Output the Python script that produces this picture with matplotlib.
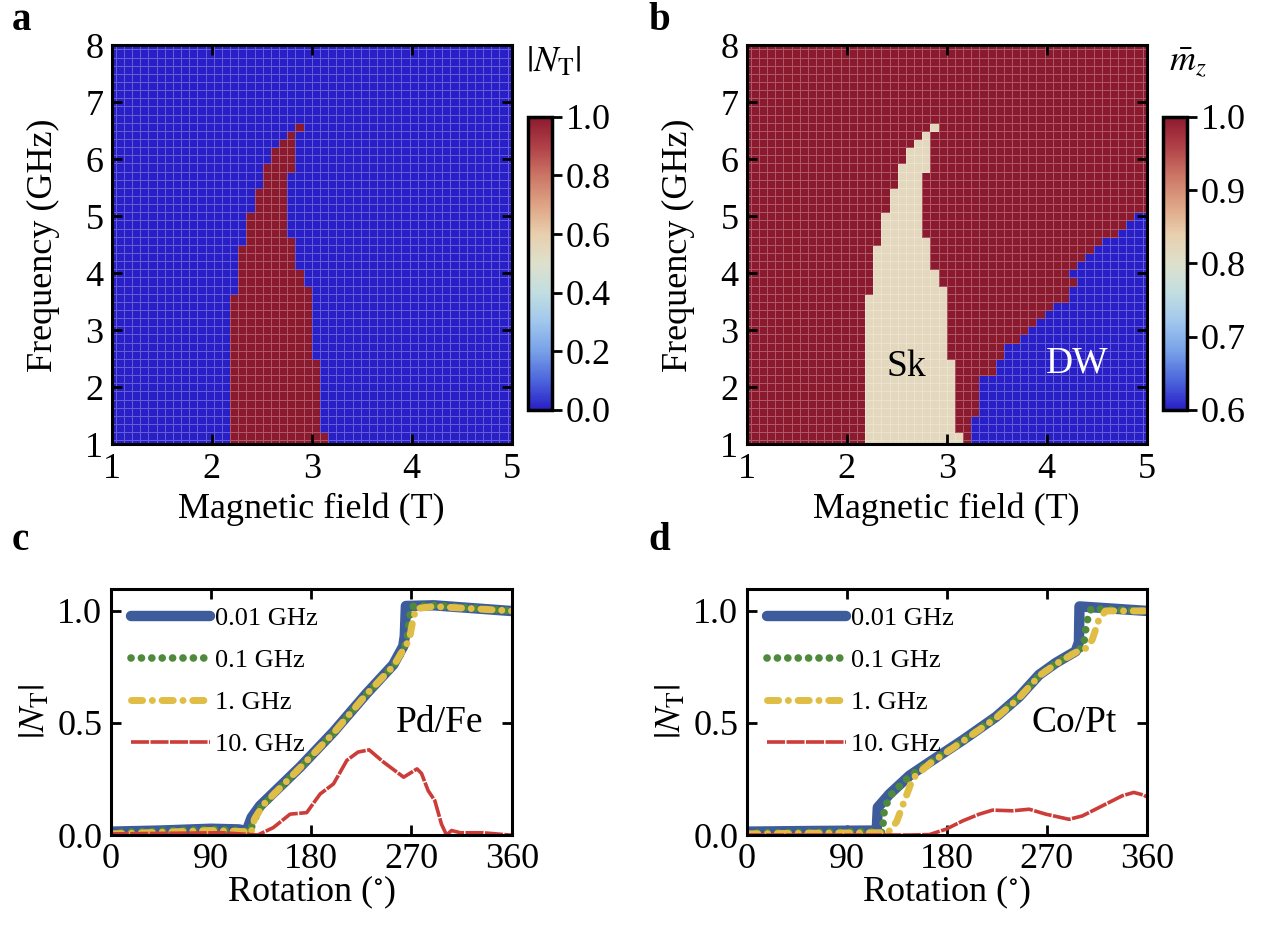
import numpy as np
import matplotlib

matplotlib.use('Agg')
import matplotlib.pyplot as plt
from matplotlib.colors import LinearSegmentedColormap

plt.rcParams['font.family'] = ['Liberation Serif', 'DejaVu Serif']
plt.rcParams['mathtext.fontset'] = 'stix'

# heatmap grid: 50 x 50 samples
field = np.linspace(1, 5, 50)
freq = np.linspace(1, 8, 50)

# skyrmion region: first / last field column for each frequency row (rows 0..39)
sk_lo = [15, 15] + [15] * 9 + [15] * 8 + [16] + [16] * 2 + [16] * 3 + [17] + [17] * 3 + [18] * 3 + [19] * 2 + [19] + [20] * 2 + [21, 22, 23]
sk_hi = [26, 26] + [25] * 9 + [24] * 8 + [24] + [23] * 2 + [22] * 3 + [22] + [21] * 3 + [21] * 3 + [21] * 2 + [22] + [22] * 2 + [22, 22, 23]

# domain-wall region: first field column for each frequency row (rows 0..28)
dw_lo = [28] * 4 + [29] * 5 + [31] * 2 + [32] * 2 + [34, 35, 36, 37, 38] + [40] * 2 + [41, 40, 41, 42, 43, 44, 46, 47, 48]

mz_fm = 1.0
mz_sk = 0.82
mz_dw = 0.6

# panel c, Pd/Fe
c_blue_x = [0, 45, 90, 115, 122, 126.5, 134, 170, 200, 230, 253.6, 262.6, 264, 265, 290, 358.3, 360]
c_blue_y = [0.015, 0.02, 0.028, 0.025, 0.018, 0.078, 0.13, 0.303, 0.46, 0.633, 0.76, 0.842, 0.887, 1.022, 1.025, 1.0, 1.0]
c_green_x = [0, 45, 90, 118, 125, 128, 135, 170, 200, 230, 254, 263, 266, 268, 270, 290, 360]
c_green_y = [0.01, 0.018, 0.025, 0.02, 0.012, 0.06, 0.125, 0.3, 0.455, 0.63, 0.755, 0.83, 0.87, 0.96, 1.02, 1.025, 1.0]
c_yellow_x = [0, 45, 90, 120, 126, 129, 132, 138, 170, 200, 230, 254, 263, 268, 271, 274, 290, 360]
c_yellow_y = [0.005, 0.012, 0.02, 0.015, 0.008, 0.07, 0.095, 0.14, 0.3, 0.455, 0.63, 0.755, 0.83, 0.87, 0.95, 1.01, 1.02, 1.0]
c_red_x = [0, 60, 100, 132, 146, 161, 176, 188, 200, 212, 222, 232, 245, 263, 275, 279, 285, 291, 297, 301.5, 306, 314, 334, 358, 360]
c_red_y = [0.005, 0.008, 0.01, 0.0, 0.033, 0.093, 0.1, 0.183, 0.228, 0.333, 0.37, 0.38, 0.325, 0.258, 0.295, 0.275, 0.198, 0.153, 0.048, 0.0, 0.02, 0.01, 0.01, 0.0, 0.0]

# panel d, Co/Pt
d_blue_x = [0, 60, 117, 118, 128.6, 146.5, 164.5, 194.4, 224.3, 245.2, 263.2, 278.2, 296.1, 299, 299.5, 330, 360]
d_blue_y = [0.015, 0.018, 0.02, 0.123, 0.183, 0.265, 0.325, 0.423, 0.527, 0.617, 0.715, 0.768, 0.82, 0.86, 1.02, 1.01, 1.0]
d_green_x = [0, 60, 120, 122, 124, 130, 146.5, 164.5, 194.4, 224.3, 245.2, 263.2, 278.2, 296.1, 303, 306, 310, 330, 360]
d_green_y = [0.01, 0.012, 0.015, 0.01, 0.12, 0.18, 0.262, 0.322, 0.42, 0.525, 0.615, 0.712, 0.765, 0.818, 0.84, 0.95, 1.01, 1.005, 1.0]
d_yellow_x = [0, 60, 120, 127, 135, 142, 149.5, 165, 194.4, 224.3, 245.2, 263.2, 278.2, 296.1, 306, 311, 317, 323, 340, 360]
d_yellow_y = [0.005, 0.008, 0.01, 0.01, 0.06, 0.153, 0.253, 0.32, 0.418, 0.522, 0.612, 0.71, 0.763, 0.815, 0.835, 0.872, 0.962, 1.0, 1.0, 1.0]
d_red_x = [0, 60, 120, 146, 164.5, 179.5, 194.4, 209.3, 221.3, 239.2, 254.2, 269.2, 290.1, 302, 320, 338, 348.4, 357.4, 360]
d_red_y = [0.0, 0.0, 0.0, 0.0, 0.002, 0.026, 0.063, 0.093, 0.111, 0.108, 0.115, 0.093, 0.07, 0.085, 0.13, 0.175, 0.19, 0.178, 0.17]

freq_labels = ['0.01 GHz', '0.1 GHz', '1. GHz', '10. GHz']

cmap = LinearSegmentedColormap.from_list('temp', [
    (0.0, (0.16, 0.12, 0.78)),
    (0.1, (0.30, 0.40, 0.86)),
    (0.2, (0.47, 0.63, 0.91)),
    (0.3, (0.63, 0.78, 0.93)),
    (0.4, (0.76, 0.87, 0.88)),
    (0.5, (0.87, 0.88, 0.80)),
    (0.6, (0.91, 0.81, 0.68)),
    (0.7, (0.87, 0.64, 0.52)),
    (0.8, (0.80, 0.46, 0.40)),
    (0.9, (0.69, 0.25, 0.28)),
    (1.0, (0.55, 0.10, 0.18)),
])

# build the maps
nt = np.zeros((50, 50))
mz = np.full((50, 50), mz_fm)
for i, (lo, hi) in enumerate(zip(sk_lo, sk_hi)):
    nt[i, lo:hi + 1] = 1.0
    mz[i, lo:hi + 1] = mz_sk
for i, lo in enumerate(dw_lo):
    mz[i, lo:] = mz_dw

W, H = 1276, 926
fig = plt.figure(figsize=(W / 100, H / 100), dpi=100)


def fbox(x0, y0, x1, y1):
    return [x0 / W, 1 - y1 / H, (x1 - x0) / W, (y1 - y0) / H]


def style_axes(ax):
    for s in ax.spines.values():
        s.set_linewidth(2.2)
    ax.tick_params(direction='in', length=7, width=2, top=True, right=True,
                   labelsize=26, pad=6)


ax_a = fig.add_axes(fbox(111.7, 45.3, 511.7, 444.3))
ax_b = fig.add_axes(fbox(746.7, 45.3, 1146.7, 444.3))
for ax, data, vmin, vmax in [(ax_a, nt, 0, 1), (ax_b, mz, 0.6, 1.0)]:
    ax.pcolormesh(field, freq, data, shading='nearest', cmap=cmap, vmin=vmin, vmax=vmax,
                  edgecolors=(1, 1, 1, 0.28), linewidth=0.6)
    ax.set_xlim(1, 5)
    ax.set_ylim(1, 8)
    ax.set_xticks([1, 2, 3, 4, 5])
    ax.set_yticks(range(1, 9))
    ax.set_xlabel('Magnetic field (T)', fontsize=26, labelpad=5)
    ax.set_ylabel('Frequency (GHz)', fontsize=26, labelpad=18)
    style_axes(ax)

ax_b.text(2.6, 2.36, 'Sk', fontsize=27, ha='center', va='center', color='black')
ax_b.text(4.3, 2.42, 'DW', fontsize=27, ha='center', va='center', color='white')

# colorbars
for ax, x0, vmin, vmax, ticks, fmt, label in [
        (ax_a, 528.3, 0, 1, np.arange(0, 1.01, 0.2), '%.1f', r'$|N_{\mathrm{T}}|$'),
        (ax_b, 1163.3, 0.6, 1.0, np.arange(0.6, 1.01, 0.1), '%.1f', r'$\bar{m}_z$')]:
    cax = fig.add_axes(fbox(x0, 116.7, x0 + 23.4, 410))
    sm = plt.cm.ScalarMappable(cmap=cmap, norm=plt.Normalize(vmin, vmax))
    cb = fig.colorbar(sm, cax=cax, ticks=ticks, format=fmt)
    cb.outline.set_linewidth(2.5)
    cax.tick_params(direction='out', length=7, width=2, labelsize=26, pad=3)
    fig.text((x0 + 25) / W, 1 - 62 / H, label, fontsize=26, ha='center', va='center')

# line panels
ax_c = fig.add_axes(fbox(110.7, 588.5, 511.7, 835))
ax_d = fig.add_axes(fbox(746.7, 588.5, 1146.7, 835))
line_kw = [
    dict(color='#3e5c9c', lw=7.5, solid_capstyle='round'),
    dict(color='#4f8a3c', lw=5.5, linestyle=(0, (0.01, 1.35)), dash_capstyle='round'),
    dict(color='#e0bd45', lw=5, linestyle=(0, (1.6, 1.4, 0.01, 1.4)), dash_capstyle='round'),
    dict(color='#cc3c38', lw=2.6, linestyle=(0, (5, 0.4))),
]
for ax, series, name in [
        (ax_c, [(c_blue_x, c_blue_y), (c_green_x, c_green_y), (c_yellow_x, c_yellow_y), (c_red_x, c_red_y)], 'Pd/Fe'),
        (ax_d, [(d_blue_x, d_blue_y), (d_green_x, d_green_y), (d_yellow_x, d_yellow_y), (d_red_x, d_red_y)], 'Co/Pt')]:
    for (xs, ys), kw, lab in zip(series, line_kw, freq_labels):
        ax.plot(xs, ys, label=lab, **kw)
    ax.set_xlim(0, 360)
    ax.set_ylim(0, 1.1)
    ax.set_xticks([0, 90, 180, 270, 360])
    ax.set_yticks([0, 0.5, 1.0])
    ax.set_yticklabels(['0.0', '0.5', '1.0'])
    ax.set_xlabel(r'Rotation ($^{\circ}$)', fontsize=26, labelpad=-2)
    ax.set_ylabel(r'$|N_{\mathrm{T}}|$', fontsize=26, labelpad=4)
    style_axes(ax)
    ax.text(295, 0.5, name, fontsize=27, ha='center', va='center')
    ax.legend(loc='upper left', frameon=False, fontsize=19, handlelength=3.0,
              handletextpad=0.2, labelspacing=0.7, borderpad=0, borderaxespad=0,
              bbox_to_anchor=(0.05, 0.925))

for lab, x, y in [('a', 12, 20), ('b', 648, 20), ('c', 12, 540), ('d', 648, 540)]:
    fig.text(x / W, 1 - y / H, lab, fontsize=28, fontweight='bold',
             ha='left', va='center')

fig.savefig('out.png', dpi=100)
